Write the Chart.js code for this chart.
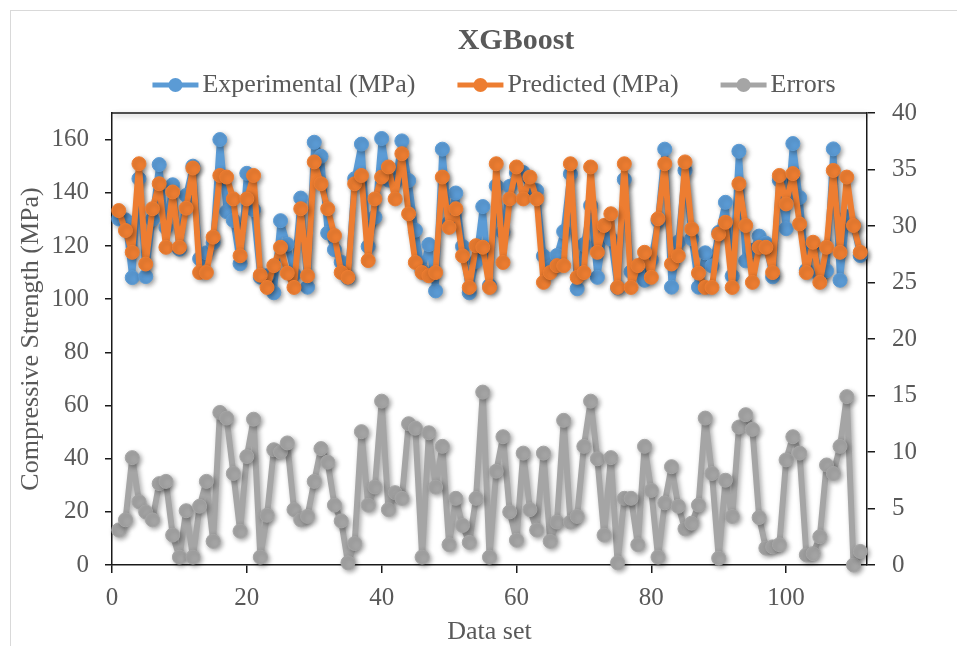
<!DOCTYPE html>
<html>
<head>
<meta charset="utf-8">
<title>XGBoost</title>
<script src="https://cdn.jsdelivr.net/npm/chart.js@4.4.1/dist/chart.umd.min.js"></script>
<style>
  html, body { margin: 0; padding: 0; background: #fff; }
  #wrap { position: relative; width: 957px; height: 646px; overflow: hidden; }
  #frame { position: absolute; left: 10px; top: 10px; width: 960px; height: 650px; border: 1px solid #d9d9d9; }
  #chart { position: absolute; left: 0; top: 0; }
</style>
</head>
<body>
<div id="wrap">
  <div id="frame"></div>
  <canvas id="chart" width="957" height="646"></canvas>
</div>
<script>
// compressive strength, measured vs XGBoost prediction (MPa), one value per sample
const experimental = [
  130.2, 129.8, 108.1, 145.3, 108.5, 130.0, 150.6, 126.9, 143.0, 118.8,
  139.0, 150.0, 115.2, 117.4, 121.2, 160.0, 132.9, 129.6, 113.3, 147.3,
  133.6, 108.3, 108.8, 102.4, 129.5, 120.6, 109.3, 138.0, 104.5, 159.0,
  153.7, 124.9, 118.6, 113.9, 108.0, 145.3, 158.3, 119.8, 130.8, 160.4,
  144.8, 144.1, 159.5, 144.6, 125.9, 110.7, 120.5, 103.1, 156.4, 128.8,
  139.9, 119.8, 102.4, 114.2, 134.8, 105.1, 142.6, 125.2, 142.4, 147.5,
  147.6, 141.0, 140.8, 116.2, 112.1, 116.4, 125.4, 147.1, 103.9, 120.5,
  135.2, 108.2, 125.0, 122.6, 104.2, 145.0, 110.3, 110.8, 107.1, 114.8,
  129.5, 156.4, 104.5, 121.5, 148.4, 122.7, 104.5, 117.4, 112.5, 125.1,
  136.4, 108.7, 155.6, 114.4, 118.3, 123.7, 121.0, 108.4, 144.7, 126.5,
  158.5, 138.2, 110.9, 120.4, 108.8, 110.7, 156.5, 107.1, 131.0, 127.7,
  116.4
]
const predicted = [
  133.3, 125.8, 117.6, 150.9, 113.2, 134.0, 143.4, 119.5, 140.3, 119.5,
  134.2, 149.3, 110.0, 110.0, 123.3, 146.5, 145.9, 137.7, 116.3, 137.7,
  146.5, 109.0, 104.4, 112.6, 119.5, 109.8, 104.4, 134.0, 108.8, 151.6,
  143.4, 134.0, 123.9, 110.0, 108.2, 143.4, 146.5, 114.5, 137.7, 145.9,
  149.7, 137.7, 154.7, 132.1, 113.8, 110.0, 108.8, 110.0, 145.9, 127.0,
  134.0, 116.3, 104.4, 120.1, 119.5, 104.4, 150.9, 113.8, 137.7, 149.7,
  137.7, 145.9, 137.7, 106.3, 110.0, 112.6, 112.6, 150.9, 108.2, 110.0,
  149.7, 117.6, 127.7, 132.1, 104.4, 150.9, 104.4, 112.6, 117.6, 108.2,
  130.2, 150.9, 113.2, 116.3, 151.6, 126.4, 109.8, 104.4, 104.4, 124.5,
  128.9, 104.4, 143.4, 127.7, 106.3, 119.5, 119.5, 110.0, 146.5, 135.8,
  147.2, 128.3, 110.0, 121.4, 106.3, 119.5, 148.4, 117.6, 145.9, 127.7,
  117.6
]
// absolute error per sample, plotted on the right axis
const errors = [
  3.1, 4.0, 9.5, 5.6, 4.7, 4.0, 7.2, 7.4, 2.65, 0.7,
  4.8, 0.7, 5.2, 7.4, 2.1, 13.5, 13.0, 8.1, 3.0, 9.6,
  12.9, 0.7, 4.4, 10.2, 10.0, 10.8, 4.9, 4.0, 4.3, 7.4,
  10.3, 9.1, 5.3, 3.9, 0.2, 1.9, 11.8, 5.3, 6.9, 14.5,
  4.9, 6.4, 5.9, 12.5, 12.1, 0.7, 11.7, 6.9, 10.5, 1.8,
  5.9, 3.5, 2.0, 5.9, 15.3, 0.7, 8.3, 11.35, 4.7, 2.2,
  9.9, 4.9, 3.1, 9.9, 2.1, 3.8, 12.8, 3.8, 4.3, 10.5,
  14.5, 9.4, 2.65, 9.5, 0.2, 5.9, 5.9, 1.8, 10.5, 6.6,
  0.7, 5.5, 8.7, 5.2, 3.2, 3.7, 5.3, 13.0, 8.1, 0.6,
  7.5, 4.3, 12.2, 13.3, 12.0, 4.2, 1.5, 1.6, 1.8, 9.3,
  11.35, 9.9, 0.9, 1.0, 2.5, 8.85, 8.1, 10.5, 14.9, 0.0,
  1.2
]

const xTicks = [0, 20, 40, 60, 80, 100]
const strengthTicks = [0, 20, 40, 60, 80, 100, 120, 140, 160]
const errorTicks = [0, 5, 10, 15, 20, 25, 30, 35, 40]

const FONT = "'Liberation Serif', 'Times New Roman', serif"
const TEXT = "#595959"
const AXIS = "#1a1a1a"
const BLUE = "#5B9BD5"
const ORANGE = "#ED7D31"
const GRAY = "#A5A5A5"

// sample number on x, value on y
const toPoints = (values) => values.map((v, k) => ({ x: k + 1, y: v }))

const series = (label, values, color, axis, order) => ({
  label,
  data: toPoints(values),
  yAxisID: axis,
  order,
  borderColor: color,
  backgroundColor: color,
  borderWidth: 6,
  borderJoinStyle: "round",
  borderCapStyle: "round",
  pointRadius: 7,
  pointHoverRadius: 7,
  pointBackgroundColor: color,
  pointBorderColor: color,
  pointBorderWidth: 1,
  tension: 0,
  clip: false,
})

// soft drop shadow under lines and markers
const shadowPlugin = {
  id: "markerShadow",
  beforeDatasetsDraw(chart) {
    const ctx = chart.ctx
    ctx.save()
    ctx.shadowColor = "rgba(0, 0, 0, 0.35)"
    ctx.shadowBlur = 5
    ctx.shadowOffsetX = 2
    ctx.shadowOffsetY = 2
  },
  afterDatasetsDraw(chart) {
    chart.ctx.restore()
  },
}

// top edge of the plot box
const boxPlugin = {
  id: "plotBox",
  beforeDatasetsDraw(chart) {
    const { ctx, chartArea } = chart
    ctx.save()
    ctx.strokeStyle = AXIS
    ctx.lineWidth = 1.5
    ctx.beginPath()
    ctx.moveTo(chartArea.left, chartArea.top)
    ctx.lineTo(chartArea.right, chartArea.top)
    ctx.stroke()
    ctx.restore()
  },
}

// title and line-with-marker legend
const headerPlugin = {
  id: "header",
  afterDraw(chart) {
    const ctx = chart.ctx
    ctx.save()
    ctx.fillStyle = TEXT
    ctx.textBaseline = "middle"
    ctx.textAlign = "center"
    ctx.font = "bold 30px " + FONT
    ctx.fillText("XGBoost", 516, 41)

    ctx.font = "26px " + FONT
    ctx.textAlign = "left"
    const markW = 46
    const gapText = 4
    const gapItem = 42
    const items = chart.data.datasets.map((ds) => ({
      ds,
      w: markW + gapText + ctx.measureText(ds.label).width,
    }))
    const total = items.reduce((s, it) => s + it.w, 0) + gapItem * (items.length - 1)
    let x = 494 - total / 2
    const y = 85
    items.forEach(({ ds, w }) => {
      ctx.strokeStyle = ds.borderColor
      ctx.lineWidth = 5
      ctx.beginPath()
      ctx.moveTo(x, y)
      ctx.lineTo(x + markW, y)
      ctx.stroke()
      ctx.fillStyle = ds.borderColor
      ctx.beginPath()
      ctx.arc(x + markW / 2, y, 7, 0, Math.PI * 2)
      ctx.fill()
      ctx.fillStyle = TEXT
      ctx.fillText(ds.label, x + markW + gapText, y)
      x += w + gapItem
    })
    ctx.restore()
  },
}

const axisBase = (tickValues, tickLength, padding) => ({
  type: "linear",
  grid: { drawOnChartArea: false, color: AXIS, lineWidth: 1.5, tickLength },
  border: { display: true, color: AXIS, width: 1.5 },
  ticks: { color: TEXT, font: { family: FONT, size: 25 }, padding, maxRotation: 0 },
  afterBuildTicks: (scale) => {
    scale.ticks = tickValues.map((v) => ({ value: v }))
  },
})

new Chart(document.getElementById("chart"), {
  type: "line",
  data: {
    datasets: [
      series("Experimental (MPa)", experimental, BLUE, "y", 2),
      series("Predicted (MPa)", predicted, ORANGE, "y", 1),
      series("Errors", errors, GRAY, "y2", 0),
    ],
  },
  options: {
    responsive: false,
    animation: false,
    devicePixelRatio: 1,
    layout: { padding: { top: 113, left: 0, right: 0, bottom: 0 } },
    plugins: {
      legend: { display: false },
      title: { display: false },
      tooltip: { enabled: false },
    },
    scales: {
      x: {
        ...axisBase(xTicks, 8, 10),
        position: "bottom",
        min: 0,
        max: 112,
        title: {
          display: true,
          text: "Data set",
          color: TEXT,
          font: { family: FONT, size: 26 },
          padding: { top: 0, bottom: -2 },
        },
        afterFit: (scale) => {
          scale.height = 81
        },
      },
      y: {
        ...axisBase(strengthTicks, 7, 16),
        position: "left",
        min: 0,
        max: 170,
        title: {
          display: true,
          text: "Compressive Strength (MPa)",
          color: TEXT,
          font: { family: FONT, size: 26 },
          padding: { top: 16, bottom: 0 },
        },
        afterFit: (scale) => {
          scale.width = 112
        },
      },
      y2: {
        ...axisBase(errorTicks, 8, 17),
        position: "right",
        min: 0,
        max: 40,
        afterFit: (scale) => {
          scale.width = 90
        },
      },
    },
  },
  plugins: [shadowPlugin, boxPlugin, headerPlugin],
})
</script>
</body>
</html>
